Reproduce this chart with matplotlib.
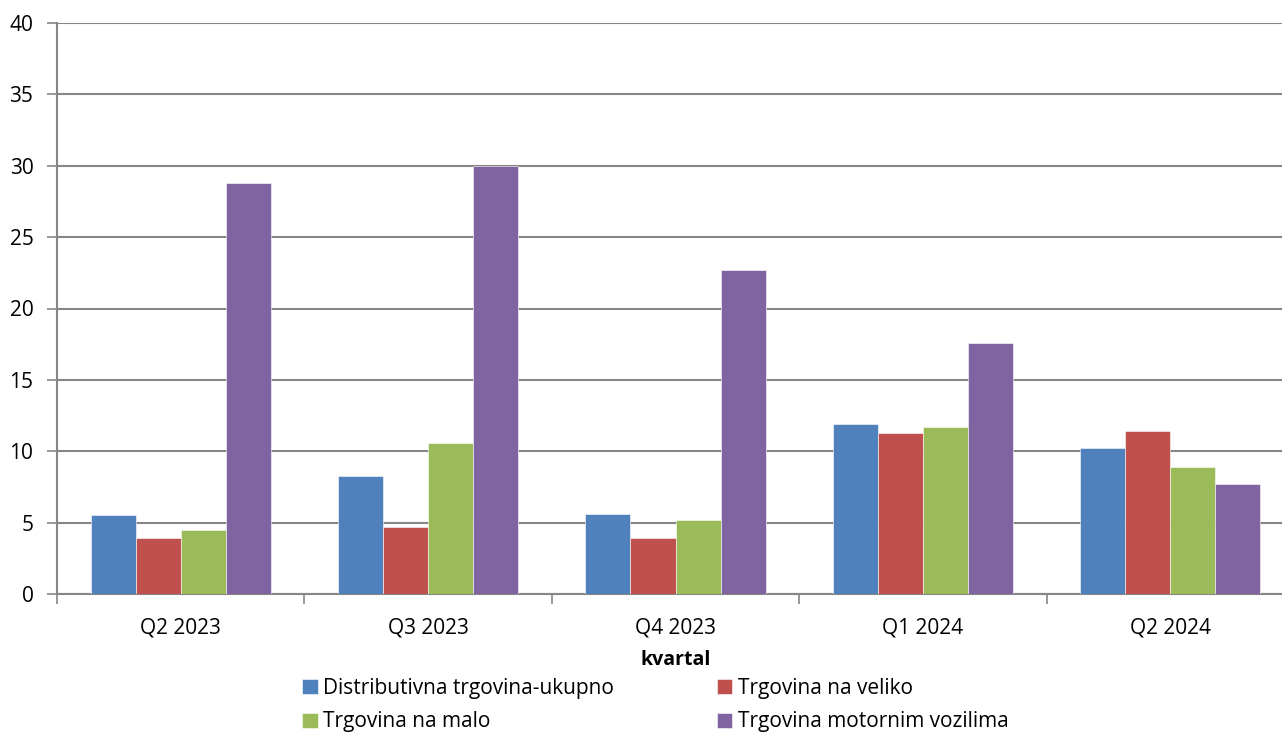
import numpy as np
import matplotlib.pyplot as plt

quarters = ["Q2 2023", "Q3 2023", "Q4 2023", "Q1 2024", "Q2 2024"]
series_names = ["Distributivna trgovina-ukupno", "Trgovina na veliko",
                "Trgovina na malo", "Trgovina motornim vozilima"]
ukupno = [5.5, 8.3, 5.6, 11.9, 10.2]
veliko = [3.9, 4.7, 3.9, 11.3, 11.4]
malo = [4.5, 10.6, 5.2, 11.7, 8.9]
vozila = [28.8, 30.0, 22.7, 17.6, 7.7]
colors = ["#4F81BD", "#C0504D", "#9BBB59", "#8064A2"]

plt.rcParams['font.family'] = ['Open Sans', 'DejaVu Sans']

fig = plt.figure(figsize=(12.82, 7.36), dpi=100)
# axes runs a bit past the right edge, as in the original
ax = fig.add_axes([57/1282, 142/736, 1237/1282, 571/736])

x = np.arange(len(quarters))
w = 0.182
bars = []
for i, vals in enumerate([ukupno, veliko, malo, vozila]):
    b = ax.bar(x + (i - 1.5) * w, vals, w, color=colors[i], label=series_names[i],
               edgecolor='white', linewidth=0.4, zorder=3)
    bars.append(b)

ax.set_xlim(-0.5, len(quarters) - 0.5)
ax.set_ylim(0, 40)
ax.set_yticks(range(0, 41, 5))
ax.set_xticks(x)
ax.set_xticklabels(quarters)
ax.set_xticks(np.arange(-0.5, len(quarters)), minor=True)
ax.tick_params(axis='x', which='major', length=0, pad=17, labelsize=15)
ax.tick_params(axis='x', which='minor', length=7, width=1.2, color='#868686', direction='out')
ax.tick_params(axis='y', length=7, width=1.2, color='#868686', pad=10, labelsize=15)
ax.grid(axis='y', color='#868686', linewidth=1.5, zorder=0)

for s in ['top', 'right']:
    ax.spines[s].set_visible(False)
for s in ['left', 'bottom']:
    ax.spines[s].set_color('#868686')
    ax.spines[s].set_linewidth(1.5)

ax.set_xlabel("kvartal", fontsize=14, fontweight='bold', labelpad=8)

# row-wise order like the original: matplotlib fills columns first
order = [0, 2, 1, 3]
fig.legend([bars[i] for i in order], [series_names[i] for i in order],
           loc='upper left', bbox_to_anchor=(302/1282, 1 - 678/736), ncol=2,
           frameon=False, fontsize=15, handlelength=0.75, handleheight=0.7,
           handletextpad=0.25, columnspacing=4.95, labelspacing=0.6,
           borderpad=0, borderaxespad=0)

fig.savefig("out.png", dpi=100)
